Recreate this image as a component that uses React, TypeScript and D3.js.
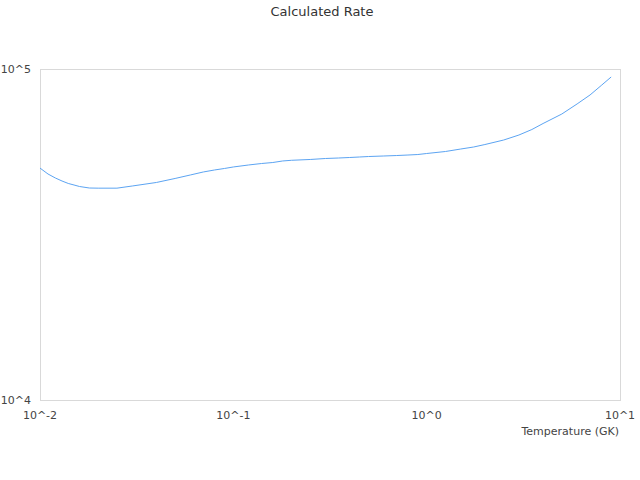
import * as d3 from "d3";

const TEMPS: number[] = [
  0.01, 0.011, 0.012, 0.013, 0.014, 0.015, 0.016, 0.018, 0.02, 0.025, 0.03,
  0.04, 0.05, 0.06, 0.07, 0.08, 0.09, 0.1, 0.12, 0.14, 0.16, 0.18, 0.2, 0.25,
  0.3, 0.35, 0.4, 0.45, 0.5, 0.6, 0.7, 0.8, 0.9, 1, 1.25, 1.5, 1.75, 2, 2.5, 3,
  3.5, 4, 5, 6, 7, 8, 9,
];
const RATES: number[] = [
  50200, 48170, 46860, 45880, 45100, 44620, 44160, 43700, 43650, 43650, 44310,
  45410, 46700, 47850, 48860, 49540, 50060, 50580, 51290, 51820, 52180, 52740,
  52990, 53290, 53660, 53840, 54030, 54220, 54400, 54600, 54780, 54970, 55160,
  55550, 56330, 57310, 58120, 59130, 61010, 63170, 65640, 68440, 73110, 78420,
  83480, 89170, 94590,
];
const X_TICKS: number[] = [0.01, 0.1, 1, 10];
const X_TICK_LABELS: string[] = ["10^-2", "10^-1", "10^0", "10^1"];
const Y_TICKS: number[] = [1e4, 1e5];
const Y_TICK_LABELS: string[] = ["10^4", "10^5"];

const W = 640;
const H = 480;
const margin = { top: 69, right: 20, bottom: 80, left: 40 };
const FONT = "DejaVu Sans, sans-serif";

const App = () => {
  const x = d3
    .scaleLog()
    .domain([0.01, 10])
    .range([margin.left, W - margin.right]);
  const y = d3
    .scaleLog()
    .domain([1e4, 1e5])
    .range([H - margin.bottom, margin.top]);

  const data = TEMPS.map((t, i) => ({ t, r: RATES[i] }));
  const line = d3
    .line<{ t: number; r: number }>()
    .x((d) => x(d.t))
    .y((d) => y(d.r));

  const x0 = x.range()[0];
  const x1 = x.range()[1];
  const y0 = y.range()[0];
  const y1 = y.range()[1];

  return (
    <svg
      width={W}
      height={H}
      style={{ position: "absolute", left: 0, top: 0 }}
      fontFamily={FONT}
    >
      <rect x={0} y={0} width={W} height={H} fill="#fff" />
      <text x={322} y={16} textAnchor="middle" fontSize={13} fill="#333">
        Calculated Rate
      </text>
      <rect
        x={x0 + 0.5}
        y={y1 + 0.5}
        width={x1 - x0}
        height={y0 - y1}
        fill="none"
        stroke="#d9d9d9"
        strokeWidth={1}
      />
      {Y_TICKS.map((v, i) => (
        <text
          key={v}
          x={31}
          y={y(v)}
          dy="0.35em"
          textAnchor="end"
          fontSize={11}
          fill="#444"
        >
          {Y_TICK_LABELS[i]}
        </text>
      ))}
      {X_TICKS.map((v, i) => (
        <text
          key={v}
          x={x(v)}
          y={419}
          textAnchor="middle"
          fontSize={11}
          fill="#444"
        >
          {X_TICK_LABELS[i]}
        </text>
      ))}
      <text x={619} y={435} textAnchor="end" fontSize={11} fill="#444">
        Temperature (GK)
      </text>
      <path
        d={line(data) ?? ""}
        fill="none"
        stroke="#5ca4f2"
        strokeWidth={1}
        strokeLinejoin="round"
      />
    </svg>
  );
};

export default App;
